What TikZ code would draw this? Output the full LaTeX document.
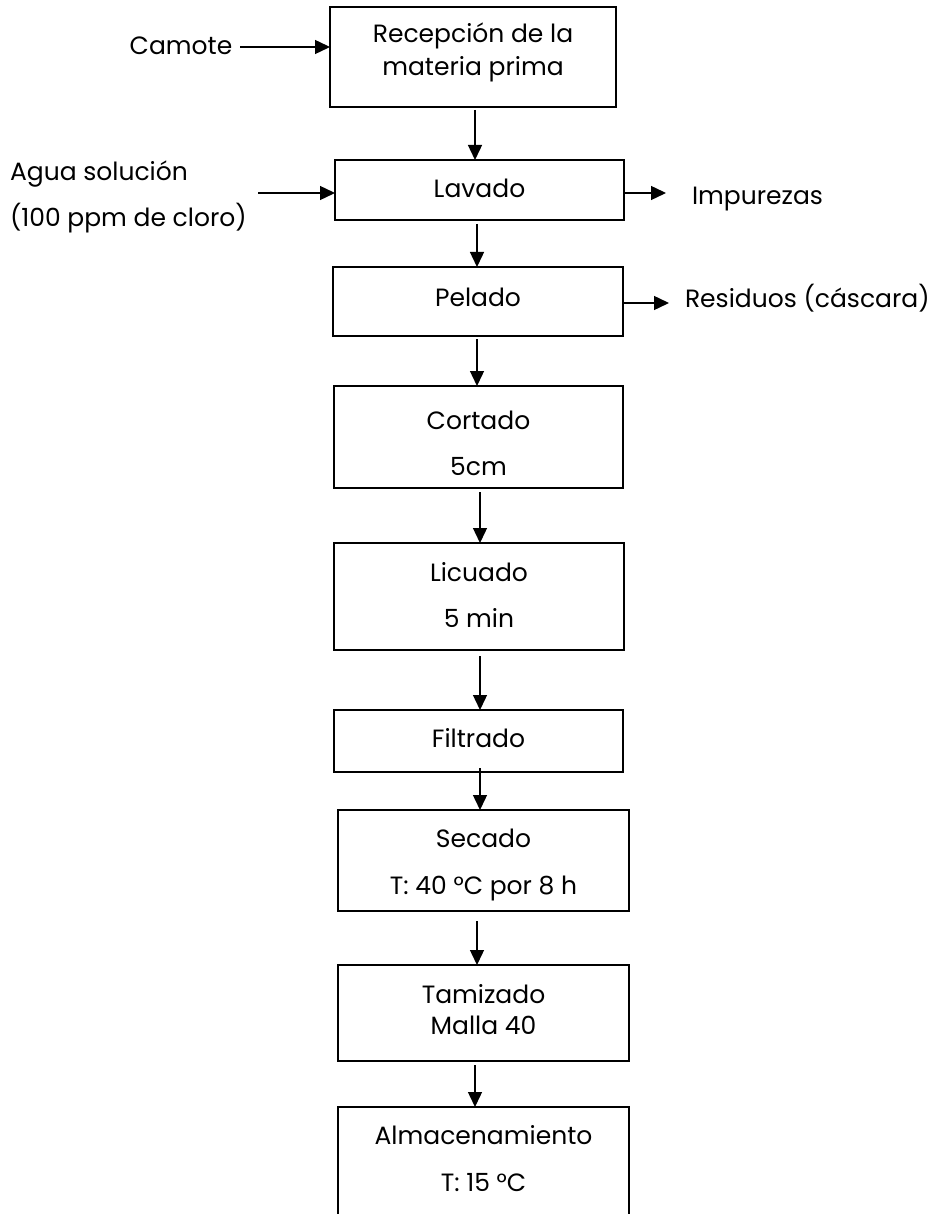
\documentclass[tikz,border=0pt]{standalone}
\usepackage{fontspec}
\setmainfont{Poppins}
\usetikzlibrary{arrows.meta}
\begin{document}
\begin{tikzpicture}[x=1pt,y=-1pt,
  box/.style={draw=black, line width=1.4pt, inner sep=0pt, outer sep=0pt},
  txt/.style={anchor=base, inner sep=0pt, outer sep=0pt, font=\fontsize{25}{30}\selectfont},
  arr/.style={draw=black, line width=1.4pt, -{Triangle[length=15pt,width=14pt]}},
]
\useasboundingbox (0,0) rectangle (937,1214);
\clip (0,0) rectangle (937,1214);
\fill[white] (0,0) rectangle (937,1214);

% process boxes
\node[box, minimum width=286pt, minimum height=100pt] (rec) at (473,57) {};
\node[box, minimum width=289pt, minimum height=60pt]  (lav) at (479.5,190) {};
\node[box, minimum width=290pt, minimum height=69pt]  (pel) at (478,301.5) {};
\node[box, minimum width=289pt, minimum height=102pt] (cor) at (478.5,437) {};
\node[box, minimum width=290pt, minimum height=107pt] (lic) at (479,596.5) {};
\node[box, minimum width=289pt, minimum height=62pt]  (fil) at (478.5,741) {};
\node[box, minimum width=291pt, minimum height=101pt] (sec) at (483.5,860.5) {};
\node[box, minimum width=291pt, minimum height=96pt]  (tam) at (483.5,1013) {};
\node[box, minimum width=291pt, minimum height=193pt] (alm) at (483.5,1203.5) {};

% box texts
\node[txt] (rect1) at (473,43) {Recepción de la};
\node[txt] (rect2) at (473,76) {materia prima};
\node[txt] (lavt) at (479.5,198) {Lavado};
\node[txt] (pelt) at (478,306) {Pelado};
\node[txt] (cort1) at (478.5,429) {Cortado};
\node[txt] (cort2) at (478.5,475) {5cm};
\node[txt] (lict1) at (479,581) {Licuado};
\node[txt] (lict2) at (479,627) {5 min};
\node[txt] (filt) at (478.5,747) {Filtrado};
\node[txt] (sect1) at (483.5,847) {Secado};
\node[txt] (sect2) at (483.5,894) {T: 40 °C por 8 h};
\node[txt] (tamt1) at (483.5,1003) {Tamizado};
\node[txt] (tamt2) at (483.5,1034) {Malla 40};
\node[txt] (almt1) at (483.5,1144) {Almacenamiento};
\node[txt] (almt2) at (483.5,1191) {T: 15 °C};

% side texts
\node[txt] (cam) at (181,55) {Camote};
\node[txt, anchor=base west] (agua1) at (10,181) {Agua solución};
\node[txt, anchor=base west] (agua2) at (10,227) {(100 ppm de cloro)};
\node[txt, anchor=base west] (imp) at (692,205) {Impurezas};
\node[txt, anchor=base west] (res) at (685,308) {Residuos (cáscara)};

% arrow columns and free ends
\coordinate (c1) at (475,0);
\coordinate (c2) at (477,0);
\coordinate (c3) at (480,0);
\coordinate (camout) at (240,47);
\coordinate (aguain) at (258,193);
\coordinate (impin) at (666,193);
\coordinate (resin) at (669,303);

% main flow
\draw[arr, shorten <=3pt] (rec.south -| c1) -- (lav.north -| c1);
\draw[arr, shorten <=4pt] (lav.south -| c2) -- (pel.north -| c2);
\draw[arr, shorten <=3pt] (pel.south -| c2) -- (cor.north -| c2);
\draw[arr, shorten <=4pt] (cor.south -| c3) -- (lic.north -| c3);
\draw[arr, shorten <=6pt] (lic.south -| c3) -- (fil.north -| c3);
\draw[arr, shorten <=-4pt] (fil.south -| c3) -- (sec.north -| c3);
\draw[arr, shorten <=10pt] (sec.south -| c2) -- (tam.north -| c2);
\draw[arr, shorten <=4pt] (tam.south -| c1) -- (alm.north -| c1);

% inputs and outputs
\draw[arr] (camout) -- (rec.west |- camout);
\draw[arr] (aguain) -- (lav.west |- aguain);
\draw[arr] (lav.east |- impin) -- (impin);
\draw[arr] (pel.east |- resin) -- (resin);
\end{tikzpicture}
\end{document}
